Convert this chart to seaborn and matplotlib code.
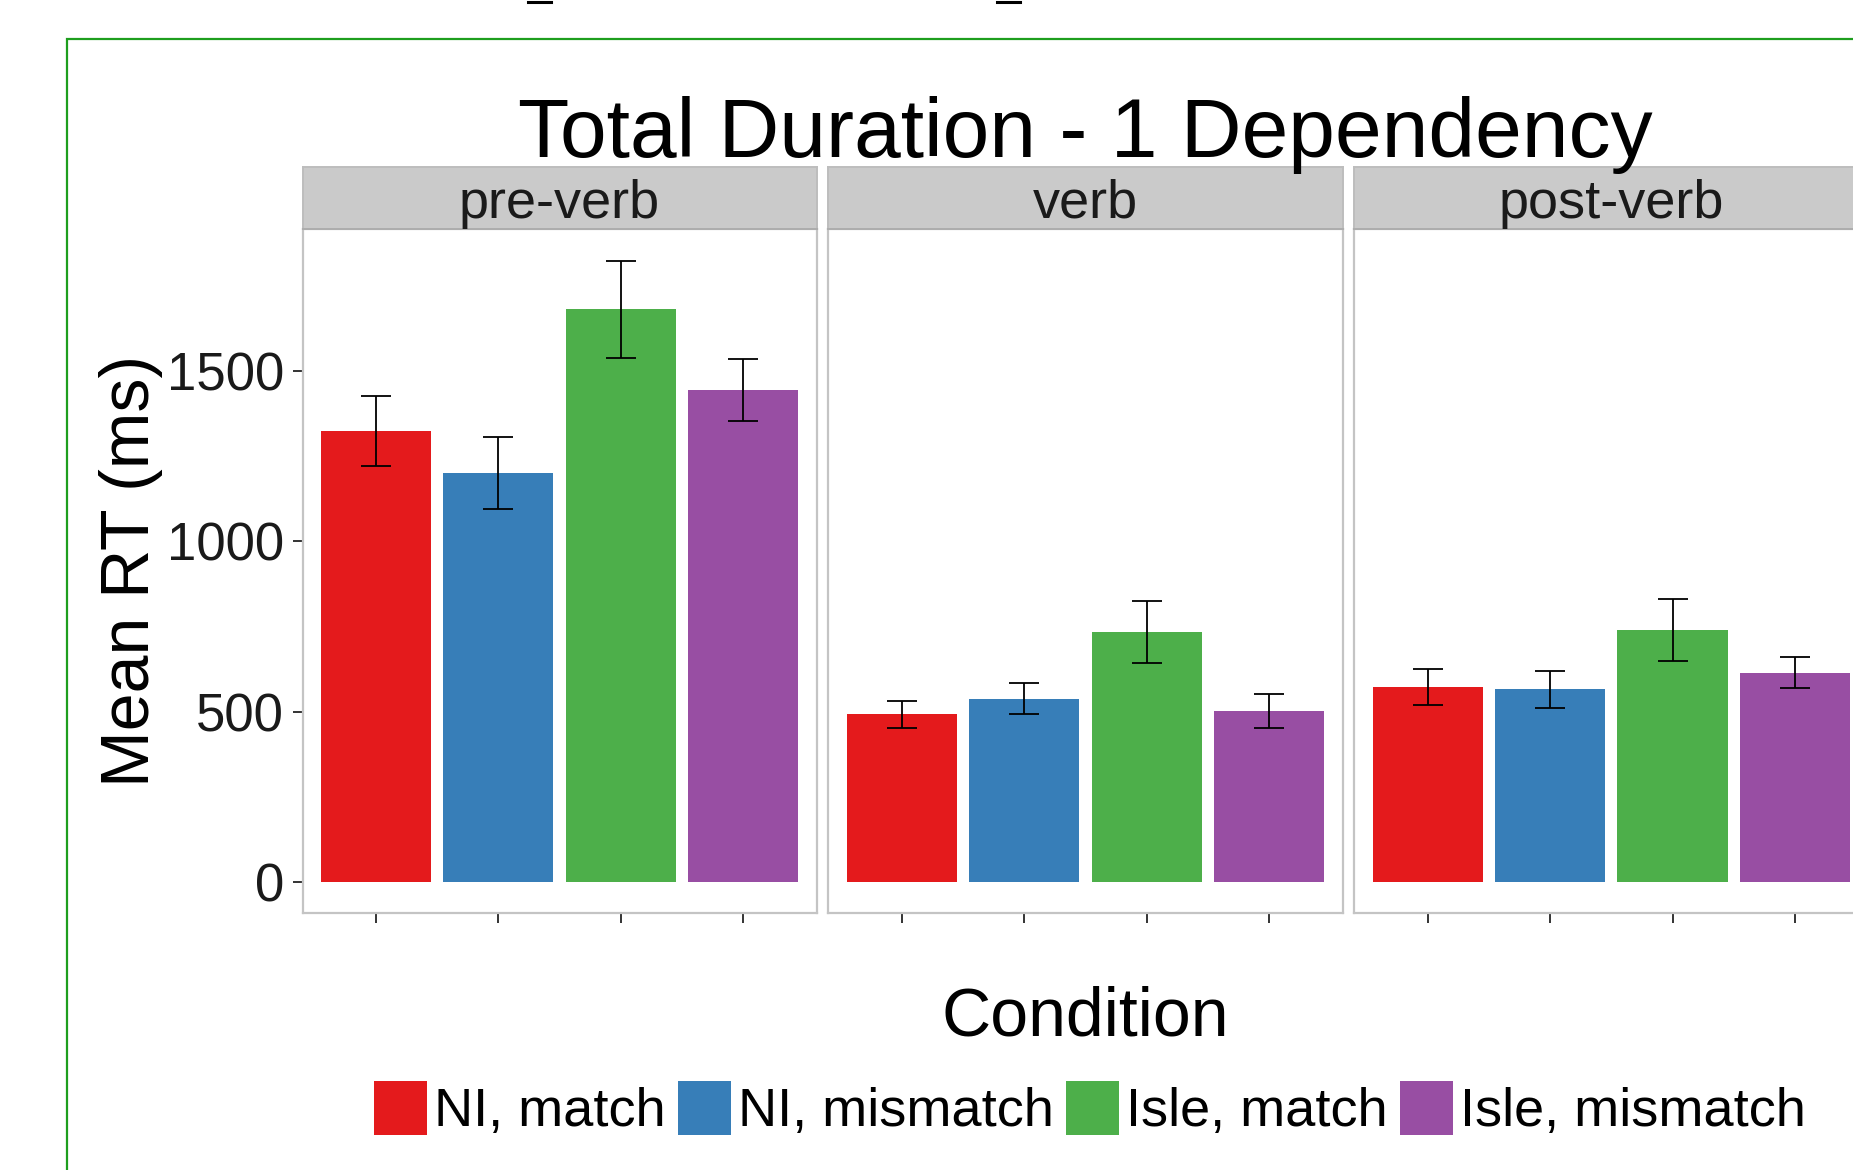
import matplotlib
matplotlib.use('Agg')
import matplotlib.pyplot as plt
import matplotlib.patches as patches
import matplotlib.lines as mlines

import numpy as np
import pandas as pd
import seaborn as sb

# chart values
regions = ['pre-verb', 'verb', 'post-verb']
conditions = ['NI, match', 'NI, mismatch', 'Isle, match', 'Isle, mismatch']
colors = ['#E41A1C', '#377EB8', '#4DAF4A', '#984EA3']

pre_verb_rt = [1322, 1200, 1680, 1444]
verb_rt = [492, 538, 734, 503]
post_verb_rt = [572, 566, 740, 614]

pre_verb_se = [103, 106, 142, 91]
verb_se = [40, 45, 91, 50]
post_verb_se = [52, 54, 90, 45]

y_ticks = [0, 500, 1000, 1500]

rows = []
for reg, rts, ses in zip(regions, [pre_verb_rt, verb_rt, post_verb_rt],
                         [pre_verb_se, verb_se, post_verb_se]):
    for cond, rt, se in zip(conditions, rts, ses):
        rows.append({'region': reg, 'condition': cond, 'rt': rt, 'se': se})
df = pd.DataFrame(rows)

plt.rcParams['font.family'] = ['Liberation Sans', 'DejaVu Sans']

W, H = 1853, 1170
fig = plt.figure(figsize=(W / 100, H / 100), dpi=100)


def fx(px):
    return px / W


def fy(py):
    return 1 - py / H


panel_left = [302.5, 828.4, 1354.3]
panel_w = 514.1
panel_top, panel_bottom = 229.3, 913.3
strip_top = 166.7
border_col = '#C4C4C4'

handles, labels = None, None
for i, reg in enumerate(regions):
    left = panel_left[i]
    ax = fig.add_axes([fx(left), fy(panel_bottom), panel_w / W, (panel_bottom - panel_top) / H])
    sub = df[df.region == reg]
    sb.barplot(data=sub, x='condition', y='rt', hue='condition', order=conditions,
               hue_order=conditions, palette=colors, width=0.9, errorbar=None,
               saturation=1, linewidth=0, legend=(i == 0), ax=ax)
    ax.errorbar(np.arange(len(conditions)), sub.rt.values, yerr=sub.se.values, fmt='none',
                ecolor='black', elinewidth=1.3, capsize=11, capthick=1.3, zorder=5)

    if i == 0:
        handles, labels = ax.get_legend_handles_labels()
        ax.get_legend().remove()

    ax.set_xlim(-0.6, 3.6)
    ax.set_ylim(-91, 1914)
    ax.set_xticks(range(len(conditions)))
    ax.set_xticklabels([])
    ax.set_xlabel('')
    ax.set_ylabel('')
    ax.set_facecolor('white')
    for s in ax.spines.values():
        s.set_color(border_col)
        s.set_linewidth(1.6)
    ax.tick_params(axis='x', length=7.2, width=1.4, color='#333333')
    if i == 0:
        ax.set_yticks(y_ticks)
        ax.set_yticklabels([str(v) for v in y_ticks])
        ax.tick_params(axis='y', length=7.2, width=1.4, color='#333333', pad=6,
                       labelsize=38, labelcolor='#1A1A1A')
    else:
        ax.tick_params(axis='y', left=False, labelleft=False)

    # facet strip
    st = fig.add_axes([fx(left), fy(panel_top), panel_w / W, (panel_top - strip_top) / H])
    st.set_facecolor('#CACACA')
    st.set_xticks([])
    st.set_yticks([])
    for s in st.spines.values():
        s.set_color('#BDBDBD')
        s.set_linewidth(1.4)
    st.spines['bottom'].set_color('#ADADAD')
    fig.text(fx(left + panel_w / 2), fy(218), reg, ha='center', va='baseline',
             fontsize=39, color='#1A1A1A')

fig.text(fx(1085), fy(157), 'Total Duration - 1 Dependency', ha='center', va='baseline',
         fontsize=60.5, color='black')
fig.text(fx(131), fy(571), 'Mean RT (ms)', rotation=90, ha='center', va='center',
         fontsize=49, color='black')
fig.text(fx(1085), fy(1035), 'Condition', ha='center', va='baseline',
         fontsize=49, color='black')

fig.legend(handles, labels, loc='center', bbox_to_anchor=(fx(1090), fy(1109)), ncol=4,
           frameon=False, fontsize=39, handlelength=0.98, handleheight=1.15,
           handletextpad=0.13, columnspacing=0.22, borderpad=0, borderaxespad=0)

# green frame of the slide, cut at the right and bottom
frame = patches.Rectangle((fx(67.4), -0.5), 2, fy(39) + 0.5, transform=fig.transFigure,
                          fill=False, edgecolor='#1E9E1E', linewidth=1.6)
fig.add_artist(frame)

# bits of cropped text at the very top
for x0, x1 in [(528, 551), (997, 1020)]:
    fig.add_artist(mlines.Line2D([fx(x0), fx(x1)], [fy(1.5), fy(1.5)], color='black',
                                 linewidth=2.2, transform=fig.transFigure))

plt.savefig('out.png', dpi=100)
